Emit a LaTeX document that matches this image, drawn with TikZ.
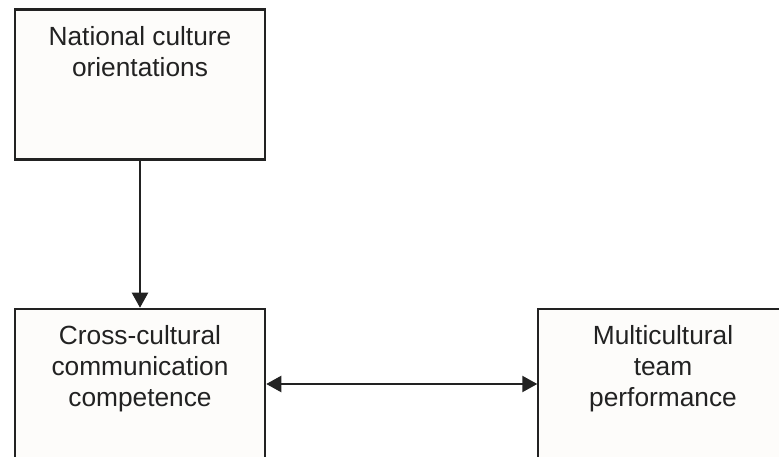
\documentclass[tikz,border=0pt]{standalone}
\usepackage{fontspec}
\setmainfont{Liberation Sans}
\usetikzlibrary{arrows.meta}
\definecolor{ink}{HTML}{222222}
\definecolor{boxfill}{HTML}{FDFCFA}
\newcommand{\boxtext}[1]{\parbox[t][150pt][t]{250pt}{\centering\fontsize{26.3pt}{31pt}\selectfont\color{ink}\rule{0pt}{36pt}#1\par}}
\tikzset{
  conceptbox/.style={draw=ink, fill=boxfill, line width=2.5pt, inner sep=0pt, rectangle},
  thinbox/.style={conceptbox, line width=1.4pt},
  link/.style={draw=ink, line width=2.2pt, -{Triangle[length=15pt,width=16pt]}},
  dlink/.style={draw=ink, line width=2.2pt, {Triangle[length=15pt,width=16pt]}-{Triangle[length=15pt,width=16pt]}}
}
\begin{document}
\begin{tikzpicture}
\useasboundingbox (0,0) rectangle (779pt,457pt);
\fill[white] (0,0) rectangle (779pt,457pt);
\clip (0,0) rectangle (779pt,457pt);
\node[conceptbox] (nat) at (140pt,372.5pt) {\boxtext{National culture\\orientations}};
\node[conceptbox] (ccc) at (140pt,73pt) {\boxtext{Cross-cultural\\communication\\competence}};
\node[thinbox] (mtp) at (663pt,73pt) {\boxtext{Multicultural\\team\\performance}};
\draw[link] (nat.south) -- (ccc.north);
\draw[dlink] (ccc.east) -- (mtp.west);
\end{tikzpicture}
\end{document}
